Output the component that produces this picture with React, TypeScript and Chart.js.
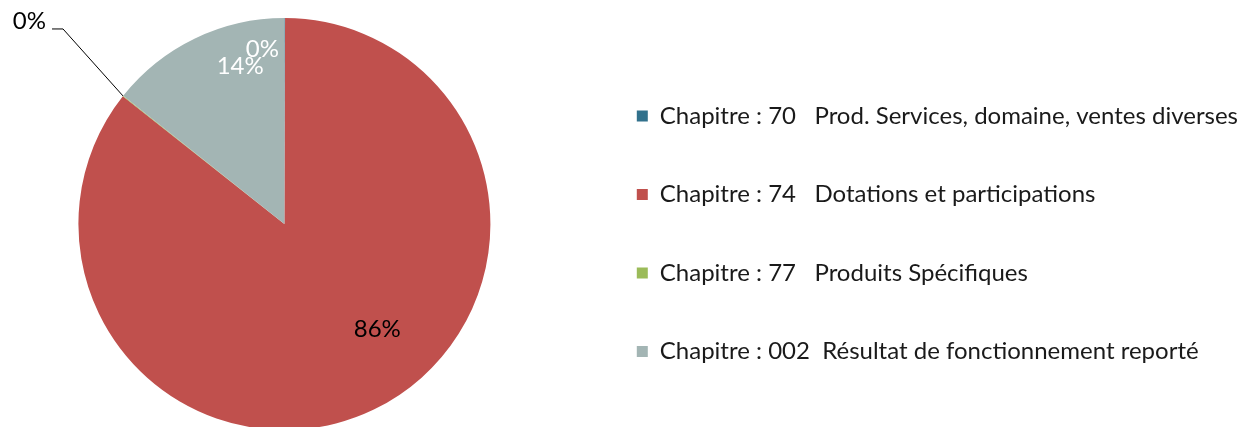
import React, { useEffect, useRef } from "react";
import { Chart, registerables } from "chart.js";

Chart.register(...registerables);

const categories = [
  "Chapitre : 70   Prod. Services, domaine, ventes diverses",
  "Chapitre : 74   Dotations et participations",
  "Chapitre : 77   Produits Spécifiques",
  "Chapitre : 002  Résultat de fonctionnement reporté",
];
const shares = [0.05, 85.6, 0.05, 14.3];
const percentLabels = ["0%", "86%", "0%", "14%"];
const sliceColors = ["#31718c", "#c0504d", "#9bbb59", "#a3b5b4"];

// label placement relative to each slice's middle angle (degrees, clockwise)
const labelPlacement: any[] = [
  { angleOffset: -7.3, r: 0.855, color: "#ffffff" },
  { angleOffset: -15.8, r: 0.68, color: "#000000" },
  { outside: true, dx: -60, dy: -67, tail: 11, color: "#000000" },
  { angleOffset: 10.1, r: 0.796, color: "#ffffff" },
];

const pieLabelsPlugin = {
  id: "pieLabels",
  afterDatasetsDraw(chart: any) {
    const ctx = chart.ctx;
    const meta = chart.getDatasetMeta(0);
    ctx.save();
    ctx.font = "24px Lato";
    ctx.textBaseline = "middle";
    meta.data.forEach((arc: any, i: number) => {
      const p = labelPlacement[i];
      const { x, y, startAngle, endAngle, outerRadius } = arc.getProps(
        ["x", "y", "startAngle", "endAngle", "outerRadius"],
        true
      );
      const mid = (startAngle + endAngle) / 2;
      ctx.fillStyle = p.color;
      if (p.outside) {
        const ex = x + Math.cos(mid) * outerRadius;
        const ey = y + Math.sin(mid) * outerRadius;
        const bx = ex + p.dx;
        const by = ey + p.dy;
        ctx.strokeStyle = "#000";
        ctx.lineWidth = 1;
        ctx.beginPath();
        ctx.moveTo(ex, ey);
        ctx.lineTo(bx, by);
        ctx.lineTo(bx - p.tail, by);
        ctx.stroke();
        ctx.textAlign = "right";
        ctx.fillText(percentLabels[i], bx - p.tail - 6, by - 8);
      } else {
        const a = mid + (p.angleOffset * Math.PI) / 180;
        const r = outerRadius * p.r;
        ctx.textAlign = "center";
        ctx.fillText(percentLabels[i], x + Math.cos(a) * r, y + Math.sin(a) * r);
      }
    });
    ctx.restore();
  },
};

const SHIFT_LEFT = 58;
const EXTRA_RIGHT = 3;

export default function App() {
  const ref = useRef<HTMLCanvasElement>(null);
  useEffect(() => {
    if (!ref.current) return;
    const baseGen = (Chart as any).overrides.pie.plugins.legend.labels.generateLabels;
    const chart = new Chart(ref.current, {
      type: "pie",
      data: {
        labels: categories,
        datasets: [
          {
            data: shares,
            backgroundColor: sliceColors,
            borderWidth: 0,
            radius: 206,
          },
        ],
      },
      options: {
        animation: false,
        responsive: true,
        maintainAspectRatio: false,
        layout: { padding: { top: 21, left: 0, right: 0, bottom: 0 } },
        plugins: {
          tooltip: { enabled: false },
          legend: {
            position: "right",
            title: {
              display: true,
              text: "",
              padding: { top: 54, bottom: 0 },
              font: { size: 10, lineHeight: 1 },
            },
            labels: {
              boxWidth: 11,
              boxHeight: 11,
              padding: 10,
              color: "#1a1a1a",
              font: { family: "Lato", size: 24, lineHeight: 68.5 / 24 },
              generateLabels: (c: any) =>
                baseGen(c).map((it: any) => ({ ...it, text: [it.text] })),
            },
          },
        },
      },
      plugins: [pieLabelsPlugin],
    });
    return () => chart.destroy();
  }, []);
  return (
    <div
      style={{
        position: "fixed",
        left: -SHIFT_LEFT,
        top: 0,
        width: 1245 + SHIFT_LEFT + EXTRA_RIGHT,
        height: 427,
        background: "#fff",
      }}
    >
      <canvas ref={ref} />
    </div>
  );
}
